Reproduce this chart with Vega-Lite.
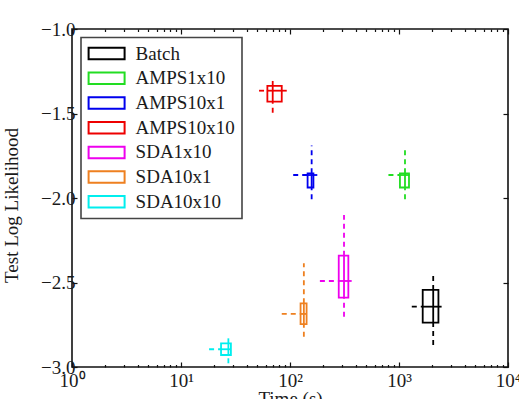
{
  "$schema": "https://vega.github.io/schema/vega-lite/v6.json",
  "autosize": "none",
  "width": 436,
  "height": 338,
  "padding": {"left": 72, "top": 29, "right": 11, "bottom": 32},
  "background": "white",
  "data": {
    "values": [
      {"method": "Batch", "xq1": 1650, "xmed": 2060, "xq3": 2300, "xlo": 1310, "xhi": 2460, "yq1": -2.738, "ymed": -2.643, "yq3": -2.544, "ylo": -2.870, "yhi": -2.446},
      {"method": "AMPS1x10", "xq1": 1020, "xmed": 1135, "xq3": 1235, "xlo": 800, "xhi": 1250, "yq1": -1.938, "ymed": -1.864, "yq3": -1.854, "ylo": -2.008, "yhi": -1.696},
      {"method": "AMPS10x1", "xq1": 145, "xmed": 158, "xq3": 164, "xlo": 107, "xhi": 178, "yq1": -1.938, "ymed": -1.864, "yq3": -1.854, "ylo": -2.008, "yhi": -1.69},
      {"method": "AMPS10x10", "xq1": 62, "xmed": 69.4, "xq3": 84, "xlo": 52, "xhi": 94, "yq1": -1.43, "ymed": -1.365, "yq3": -1.337, "ylo": -1.495, "yhi": -1.302},
      {"method": "SDA1x10", "xq1": 280, "xmed": 313, "xq3": 343, "xlo": 188, "xhi": 368, "yq1": -2.59, "ymed": -2.491, "yq3": -2.341, "ylo": -2.702, "yhi": -2.101},
      {"method": "SDA10x1", "xq1": 125, "xmed": 134, "xq3": 142, "xlo": 84, "xhi": 142, "yq1": -2.746, "ymed": -2.686, "yq3": -2.623, "ylo": -2.821, "yhi": -2.386},
      {"method": "SDA10x10", "xq1": 23.3, "xmed": 27.2, "xq3": 28.7, "xlo": 18.1, "xhi": 28.7, "yq1": -2.929, "ymed": -2.895, "yq3": -2.86, "ylo": -2.978, "yhi": -2.824}
    ]
  },
  "resolve": {"axis": {"x": "independent", "y": "independent"}},
  "layer": [
    {
      "mark": {"type": "rect", "filled": false, "strokeWidth": 1.8},
      "encoding": {
        "x": {
          "field": "xq1", "type": "quantitative",
          "scale": {"type": "log", "domain": [1, 10000], "nice": false},
          "axis": {
            "orient": "bottom",
            "title": "Time (s)",
            "titleX": 218, "titleY": 37, "titleBaseline": "alphabetic", "titleAlign": "center",
            "values": [1,2,3,4,5,6,7,8,9,10,20,30,40,50,60,70,80,90,100,200,300,400,500,600,700,800,900,1000,2000,3000,4000,5000,6000,7000,8000,9000,10000],
            "labelExpr": "datum.value == 1 ? '10⁰' : datum.value == 10 ? '10¹' : datum.value == 100 ? '10²' : datum.value == 1000 ? '10³' : datum.value == 10000 ? '10⁴' : ''",
            "labelBaseline": "alphabetic",
            "labelPadding": 24,
            "labelFlush": false,
            "labelOverlap": false,
            "tickSize": {"condition": {"test": "indexof([1,10,100,1000,10000], datum.value) >= 0", "value": -5}, "value": -2.5}
          }
        },
        "x2": {"field": "xq3"},
        "y": {
          "field": "yq1", "type": "quantitative",
          "scale": {"domain": [-3, -1], "nice": false, "zero": false},
          "axis": {
            "orient": "left",
            "title": "Test Log Likelihood",
            "titleX": -55, "titleY": 176, "titleBaseline": "alphabetic", "titleAngle": -90, "titleAlign": "center",
            "values": [-3, -2.5, -2, -1.5, -1],
            "format": ".1f",
            "labelPadding": 2,
            "tickSize": -5
          }
        },
        "y2": {"field": "yq3"},
        "stroke": {
          "field": "method", "type": "nominal",
          "scale": {
            "domain": ["Batch", "AMPS1x10", "AMPS10x1", "AMPS10x10", "SDA1x10", "SDA10x1", "SDA10x10"],
            "range": ["#000000", "#22dd22", "#0000ee", "#ee0000", "#ee00ee", "#ee8020", "#00eeee"]
          },
          "legend": {"title": null}
        }
      }
    },
    {
      "mark": {"type": "rule", "strokeWidth": 1.8},
      "encoding": {
        "x": {
          "field": "xq1", "type": "quantitative",
          "axis": {
            "orient": "top", "title": null, "labels": false,
            "values": [1,2,3,4,5,6,7,8,9,10,20,30,40,50,60,70,80,90,100,200,300,400,500,600,700,800,900,1000,2000,3000,4000,5000,6000,7000,8000,9000,10000],
            "tickSize": {"condition": {"test": "indexof([1,10,100,1000,10000], datum.value) >= 0", "value": -5}, "value": -2.5}
          }
        },
        "x2": {"field": "xq3"},
        "y": {
          "field": "ymed", "type": "quantitative",
          "axis": {"orient": "right", "title": null, "labels": false, "values": [-3, -2.5, -2, -1.5, -1], "tickSize": -5}
        },
        "stroke": {"field": "method", "type": "nominal", "legend": null}
      }
    },
    {
      "mark": {"type": "rule", "strokeWidth": 1.8},
      "encoding": {
        "x": {"field": "xmed", "type": "quantitative", "axis": null},
        "y": {"field": "yq1", "type": "quantitative", "axis": null},
        "y2": {"field": "yq3"},
        "stroke": {"field": "method", "type": "nominal", "legend": null}
      }
    },
    {
      "mark": {"type": "rule", "strokeWidth": 1.8, "strokeDash": [5, 4]},
      "encoding": {
        "x": {"field": "xlo", "type": "quantitative", "axis": null},
        "x2": {"field": "xq1"},
        "y": {"field": "ymed", "type": "quantitative", "axis": null},
        "stroke": {"field": "method", "type": "nominal", "legend": null}
      }
    },
    {
      "mark": {"type": "rule", "strokeWidth": 1.8, "strokeDash": [5, 4]},
      "encoding": {
        "x": {"field": "xq3", "type": "quantitative", "axis": null},
        "x2": {"field": "xhi"},
        "y": {"field": "ymed", "type": "quantitative", "axis": null},
        "stroke": {"field": "method", "type": "nominal", "legend": null}
      }
    },
    {
      "mark": {"type": "rule", "strokeWidth": 1.8, "strokeDash": [5, 4]},
      "encoding": {
        "x": {"field": "xmed", "type": "quantitative", "axis": null},
        "y": {"field": "yq3", "type": "quantitative", "axis": null},
        "y2": {"field": "yhi"},
        "stroke": {"field": "method", "type": "nominal", "legend": null}
      }
    },
    {
      "mark": {"type": "rule", "strokeWidth": 1.8, "strokeDash": [5, 4]},
      "encoding": {
        "x": {"field": "xmed", "type": "quantitative", "axis": null},
        "y": {"field": "ylo", "type": "quantitative", "axis": null},
        "y2": {"field": "yq1"},
        "stroke": {"field": "method", "type": "nominal", "legend": null}
      }
    }
  ],
  "config": {
    "view": {"stroke": "#111111", "strokeWidth": 1.6},
    "axis": {
      "domain": false,
      "grid": false,
      "tickColor": "#111111",
      "tickWidth": 1.2,
      "labelFont": "Liberation Serif",
      "labelFontSize": 19,
      "labelColor": "#1a1a1a",
      "titleFont": "Liberation Serif",
      "titleFontSize": 19,
      "titleFontWeight": "normal",
      "titleColor": "#1a1a1a"
    },
    "legend": {
      "orient": "none",
      "legendX": 9,
      "legendY": 8.5,
      "padding": 6.6,
      "strokeColor": "#444444",
      "strokeWidth": 1.6,
      "fillColor": "white",
      "symbolType": "M-3,-0.96H3V0.96H-3Z",
      "symbolSize": 144,
      "symbolOffset": 9.5,
      "symbolStrokeWidth": 2,
      "labelFont": "Liberation Serif",
      "labelFontSize": 19,
      "labelColor": "#1a1a1a",
      "labelOffset": 19.5,
      "rowPadding": 3.7,
      "labelLimit": 300
    }
  }
}
